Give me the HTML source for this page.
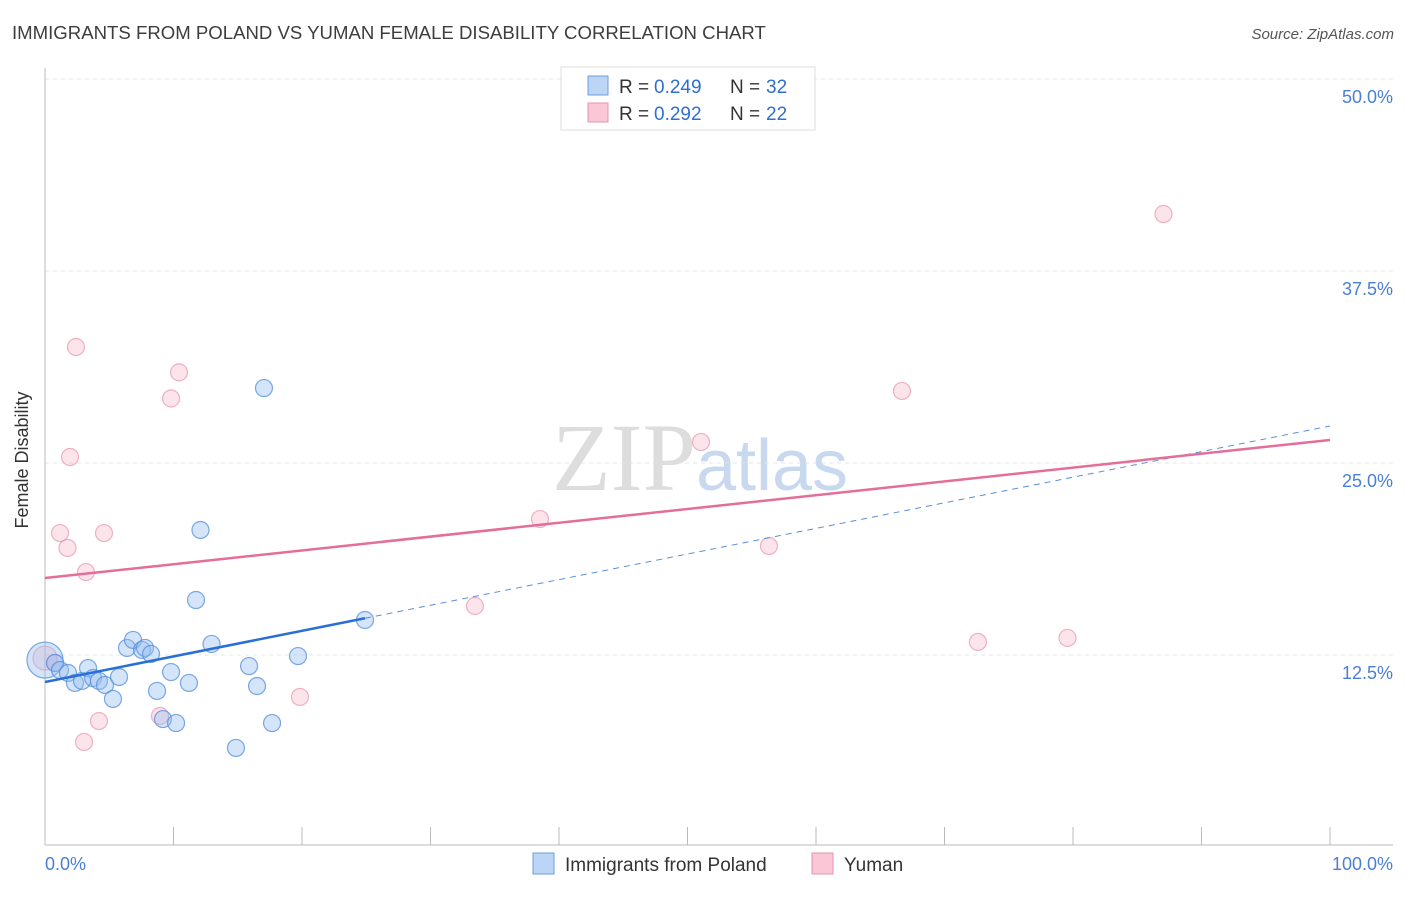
<!DOCTYPE html>
<html><head><meta charset="utf-8"><style>
body{margin:0;background:#fff;font-family:"Liberation Sans",sans-serif}
</style></head><body>
<svg width="1406" height="892" xmlns="http://www.w3.org/2000/svg" id="svg" style="font-family:'Liberation Sans',sans-serif">
<text x="12" y="39" font-size="18.6" fill="#3d3d3d">IMMIGRANTS FROM POLAND VS YUMAN FEMALE DISABILITY CORRELATION CHART</text>
<text x="1394" y="39" font-size="15" fill="#555" text-anchor="end" font-style="italic">Source: ZipAtlas.com</text>
<text x="24" y="456" font-size="18" fill="#333" text-anchor="middle" transform="rotate(-90 28 456)">Female Disability</text>
<text x="700" y="490" font-size="96" fill="#ddd" text-anchor="middle" font-family="Liberation Serif">ZIP<tspan fill="#c7d8ef" font-family="Liberation Sans" font-size="72">atlas</tspan></text>
<g id="grid"></g><g id="marks"></g>
<g>
<rect x="561" y="67" width="254" height="63" fill="#fff" stroke="#ddd"/>
<rect x="588" y="76" width="20" height="19" fill="#bcd5f5" stroke="#6d9ee0"/>
<rect x="588" y="103" width="20" height="19" fill="#f9c7d6" stroke="#e893ae"/>
<text x="619" y="93" font-size="19" fill="#333">R = </text><text x="654" y="93" font-size="19" fill="#2f6fd0">0.249</text>
<text x="730" y="93" font-size="19" fill="#333">N = </text><text x="766" y="93" font-size="19" fill="#2f6fd0">32</text>
<text x="619" y="120" font-size="19" fill="#333">R = </text><text x="654" y="120" font-size="19" fill="#2f6fd0">0.292</text>
<text x="730" y="120" font-size="19" fill="#333">N = </text><text x="766" y="120" font-size="19" fill="#2f6fd0">22</text>
</g>
<g>
<rect x="533" y="853" width="21" height="21" fill="#bcd5f5" stroke="#6d9ee0"/>
<text x="565" y="871" font-size="19" fill="#333">Immigrants from Poland</text>
<rect x="812" y="853" width="21" height="21" fill="#f9c7d6" stroke="#e893ae"/>
<text x="844" y="871" font-size="19" fill="#333">Yuman</text>
</g>
</svg>
<script>
const yTicks=[12.5,25,37.5,50];
const yTickLabels=["12.5%","25.0%","37.5%","50.0%"];
const xTickLabels=["0.0%","100.0%"];
const blueX=[0,0.78,1.17,1.79,2.33,2.88,3.35,3.74,4.2,4.67,5.29,5.76,6.38,6.85,7.55,7.78,8.25,8.72,9.18,9.81,10.2,11.2,11.75,12.1,12.96,14.86,15.88,16.5,17.04,17.67,19.69,24.9];
const blueY=[12.17,11.98,11.52,11.33,10.68,10.81,11.65,11.0,10.81,10.55,9.64,11.07,12.96,13.48,12.83,12.96,12.57,10.16,8.33,11.39,8.07,10.68,16.08,20.64,13.22,6.45,11.78,10.48,29.88,8.07,12.43,14.78];
const pinkX=[0,0.78,1.75,1.17,1.95,2.41,3.04,3.19,4.2,4.59,8.95,9.81,10.43,19.84,33.46,38.52,51.05,56.34,66.69,72.6,79.57,87.04];
const pinkY=[12.3,11.98,19.47,20.44,25.39,32.55,6.84,17.9,8.2,20.44,8.53,29.2,30.9,9.77,15.69,21.35,26.37,19.6,29.69,13.35,13.61,41.21];
const blueLine=[10.74,27.41];
const blueSolidEnd=24.9;
const pinkLine=[17.51,26.5];
const NS="http://www.w3.org/2000/svg";
const X=v=>45+v*12.85, Y=v=>847-v*15.36;
const grid=document.getElementById('grid'),marks=document.getElementById('marks');
function mk(tag,attrs,parent){const e=document.createElementNS(NS,tag);for(const k in attrs)e.setAttribute(k,attrs[k]);parent.appendChild(e);return e;}
yTicks.forEach((t,i)=>{
 const l=mk('line',{x1:45,x2:1393,y1:Y(t),y2:Y(t),stroke:'#e4e4e4','stroke-dasharray':'4,4'},grid);
 
 
 const tx=mk('text',{x:1393,y:Y(t)+24,'font-size':18,fill:'#4a7fd6','text-anchor':'end'},grid);
 tx.textContent=yTickLabels[i];
 
 
});
const ax=mk('line',{x1:45,x2:1393,y1:845,y2:845,stroke:'#bbb'},grid);


const ay=mk('line',{x1:45,x2:45,y1:68,y2:845,stroke:'#bbb'},grid);


for(let i=0;i<=10;i++){const t=mk('line',{x1:X(i*10),x2:X(i*10),y1:827,y2:845,stroke:'#bbb'},grid);
 
 }
xTickLabels.forEach((s,i)=>{const t=mk('text',{x:i?1393:45,y:870,'font-size':18,fill:'#4a7fd6','text-anchor':i?'end':'start'},grid);t.textContent=s;
 
 });
pinkX.forEach((x,i)=>{const c=mk('circle',{cx:X(x),cy:Y(pinkY[i]),r:i==0?12:8.5,fill:'rgba(244,164,190,0.3)',stroke:'rgba(230,130,165,0.6)','stroke-width':1.2},marks);
 
 });
blueX.forEach((x,i)=>{const c=mk('circle',{cx:X(x),cy:Y(blueY[i]),r:i==0?18:8.5,fill:'rgba(150,190,240,0.4)',stroke:'rgba(80,140,220,0.75)','stroke-width':1.2},marks);
 
 });
const by=x=>blueLine[0]+(blueLine[1]-blueLine[0])*x/100;
const l1=mk('line',{x1:X(0),y1:Y(by(0)),x2:X(blueSolidEnd),y2:Y(by(blueSolidEnd)),stroke:'#2a6fd6','stroke-width':2.5},marks);


const l2=mk('line',{x1:X(blueSolidEnd),y1:Y(by(blueSolidEnd)),x2:X(100),y2:Y(by(100)),stroke:'#5b8fd8','stroke-width':1,'stroke-dasharray':'6,5'},marks);


const l3=mk('line',{x1:X(0),y1:Y(pinkLine[0]),x2:X(100),y2:Y(pinkLine[1]),stroke:'#e56e98','stroke-width':2.5},marks);


</script>
</body></html>
